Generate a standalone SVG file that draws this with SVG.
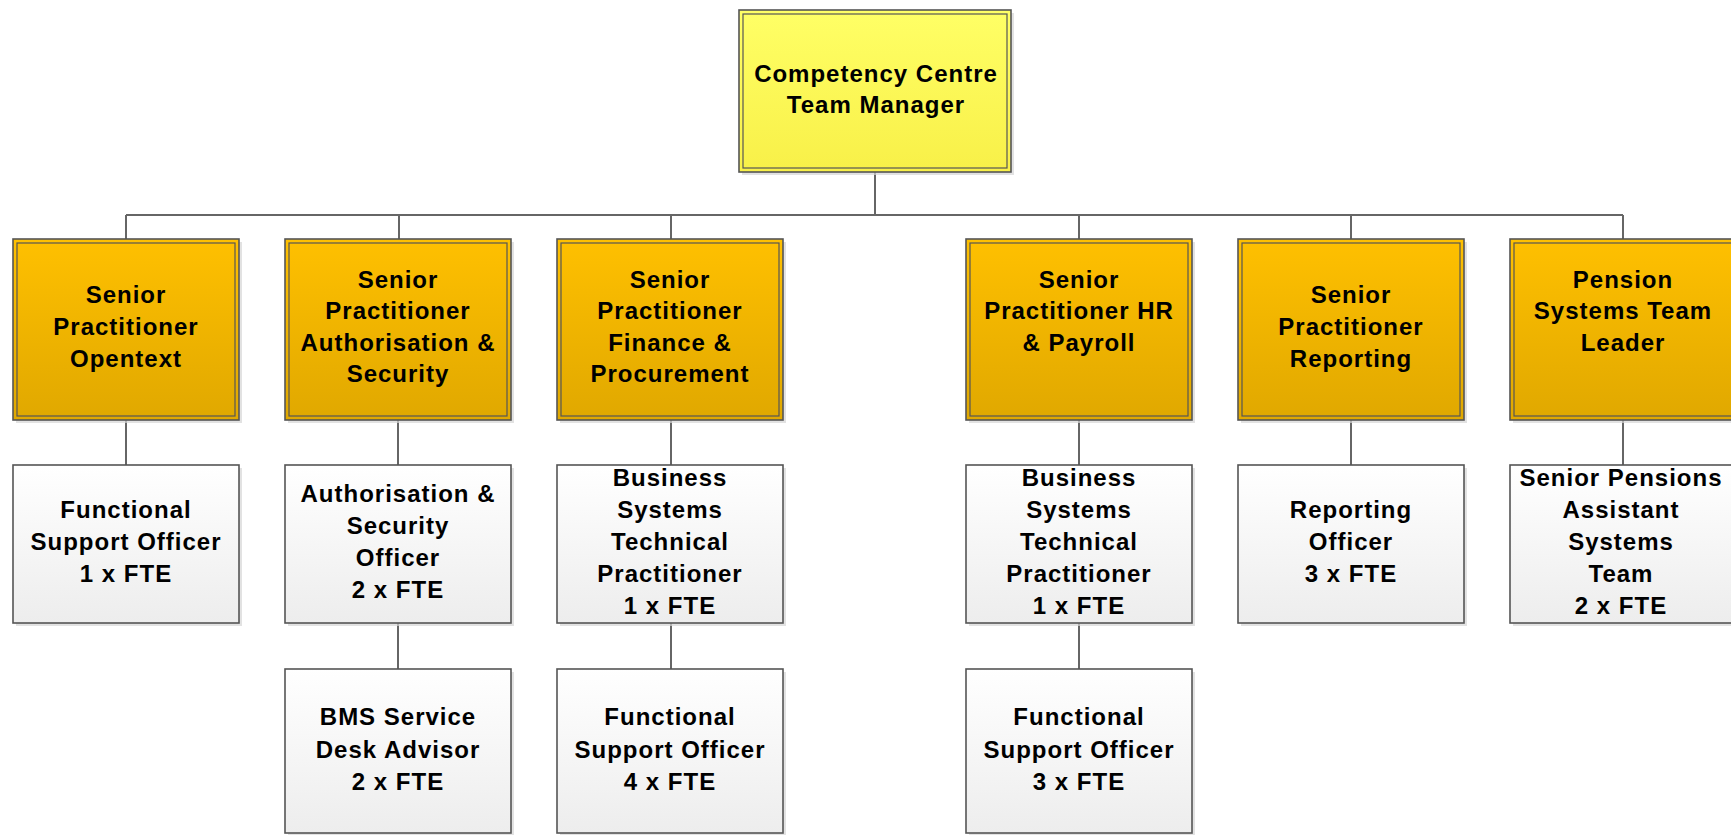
<svg xmlns="http://www.w3.org/2000/svg" width="1731" height="835" viewBox="0 0 1731 835">
<defs>
<linearGradient id="gOrange" x1="0" y1="0" x2="0" y2="1"><stop offset="0" stop-color="#FFC000"/><stop offset="1" stop-color="#E0A800"/></linearGradient>
<linearGradient id="gYellow" x1="0" y1="0" x2="0" y2="1"><stop offset="0" stop-color="#FFFF66"/><stop offset="1" stop-color="#F8F048"/></linearGradient>
<linearGradient id="gGray" x1="0" y1="0" x2="0" y2="1"><stop offset="0" stop-color="#FFFFFF"/><stop offset="1" stop-color="#EDEDED"/></linearGradient>
<style>
.sh{fill:#d6d6d6;opacity:0.7}
.o{stroke:#555;stroke-width:1.6}
.i{fill:none;stroke:#555;stroke-width:1.2}
.or{fill:url(#gOrange)}
.ye{fill:url(#gYellow)}
.gr{fill:url(#gGray)}
.t{font-family:"Liberation Sans",Arial,sans-serif;font-weight:bold;font-size:24px;letter-spacing:1px;fill:#000;text-anchor:middle}
.c{fill:none;stroke:#666;stroke-width:2}
</style>
</defs>
<g id="connectors">
<path class="c" d="M875 172V215M126 215H1623M126 215V239M399 215V239M671 215V239M1079 215V239M1351 215V239M1623 215V239"/>
<path class="c" d="M126 420V465M398 420V465M671 420V465M1079 420V465M1351 420V465M1623 420V465"/>
<path class="c" d="M398 623V669M671 623V669M1079 623V669"/>
</g>
<g id="manager">
<rect class="sh" x="742" y="13" width="272" height="162"/>
<rect class="ye o" x="739" y="10" width="272" height="162"/>
<rect class="i" x="743" y="14" width="264" height="154"/>
<text class="t" x="876" y="82">Competency Centre</text>
<text class="t" x="876" y="113">Team Manager</text>
</g>
<g id="sp-opentext">
<rect class="sh" x="16" y="242" width="226" height="181"/>
<rect class="or o" x="13" y="239" width="226" height="181"/>
<rect class="i" x="17" y="243" width="218" height="173"/>
<text class="t" x="126" y="303">Senior</text>
<text class="t" x="126" y="335">Practitioner</text>
<text class="t" x="126" y="367">Opentext</text>
</g>
<g id="sp-auth">
<rect class="sh" x="288" y="242" width="226" height="181"/>
<rect class="or o" x="285" y="239" width="226" height="181"/>
<rect class="i" x="289" y="243" width="218" height="173"/>
<text class="t" x="398" y="288">Senior</text>
<text class="t" x="398" y="319">Practitioner</text>
<text class="t" x="398" y="351">Authorisation &amp;</text>
<text class="t" x="398" y="382">Security</text>
</g>
<g id="sp-finance">
<rect class="sh" x="560" y="242" width="226" height="181"/>
<rect class="or o" x="557" y="239" width="226" height="181"/>
<rect class="i" x="561" y="243" width="218" height="173"/>
<text class="t" x="670" y="288">Senior</text>
<text class="t" x="670" y="319">Practitioner</text>
<text class="t" x="670" y="351">Finance &amp;</text>
<text class="t" x="670" y="382">Procurement</text>
</g>
<g id="sp-hr">
<rect class="sh" x="969" y="242" width="226" height="181"/>
<rect class="or o" x="966" y="239" width="226" height="181"/>
<rect class="i" x="970" y="243" width="218" height="173"/>
<text class="t" x="1079" y="288">Senior</text>
<text class="t" x="1079" y="319">Practitioner HR</text>
<text class="t" x="1079" y="351">&amp; Payroll</text>
</g>
<g id="sp-reporting">
<rect class="sh" x="1241" y="242" width="226" height="181"/>
<rect class="or o" x="1238" y="239" width="226" height="181"/>
<rect class="i" x="1242" y="243" width="218" height="173"/>
<text class="t" x="1351" y="303">Senior</text>
<text class="t" x="1351" y="335">Practitioner</text>
<text class="t" x="1351" y="367">Reporting</text>
</g>
<g id="pension-leader">
<rect class="sh" x="1513" y="242" width="226" height="181"/>
<rect class="or o" x="1510" y="239" width="226" height="181"/>
<rect class="i" x="1514" y="243" width="218" height="173"/>
<text class="t" x="1623" y="288">Pension</text>
<text class="t" x="1623" y="319">Systems Team</text>
<text class="t" x="1623" y="351">Leader</text>
</g>
<g id="fso-1">
<rect class="sh" x="16" y="468" width="226" height="158"/>
<rect class="gr o" x="13" y="465" width="226" height="158"/>
<text class="t" x="126" y="518">Functional</text>
<text class="t" x="126" y="550">Support Officer</text>
<text class="t" x="126" y="582">1 x FTE</text>
</g>
<g id="auth-officer">
<rect class="sh" x="288" y="468" width="226" height="158"/>
<rect class="gr o" x="285" y="465" width="226" height="158"/>
<text class="t" x="398" y="502">Authorisation &amp;</text>
<text class="t" x="398" y="534">Security</text>
<text class="t" x="398" y="566">Officer</text>
<text class="t" x="398" y="598">2 x FTE</text>
</g>
<g id="bstp-1">
<rect class="sh" x="560" y="468" width="226" height="158"/>
<rect class="gr o" x="557" y="465" width="226" height="158"/>
<text class="t" x="670" y="486">Business</text>
<text class="t" x="670" y="518">Systems</text>
<text class="t" x="670" y="550">Technical</text>
<text class="t" x="670" y="582">Practitioner</text>
<text class="t" x="670" y="614">1 x FTE</text>
</g>
<g id="bstp-2">
<rect class="sh" x="969" y="468" width="226" height="158"/>
<rect class="gr o" x="966" y="465" width="226" height="158"/>
<text class="t" x="1079" y="486">Business</text>
<text class="t" x="1079" y="518">Systems</text>
<text class="t" x="1079" y="550">Technical</text>
<text class="t" x="1079" y="582">Practitioner</text>
<text class="t" x="1079" y="614">1 x FTE</text>
</g>
<g id="reporting-officer">
<rect class="sh" x="1241" y="468" width="226" height="158"/>
<rect class="gr o" x="1238" y="465" width="226" height="158"/>
<text class="t" x="1351" y="518">Reporting</text>
<text class="t" x="1351" y="550">Officer</text>
<text class="t" x="1351" y="582">3 x FTE</text>
</g>
<g id="pensions-assistant">
<rect class="sh" x="1513" y="468" width="226" height="158"/>
<rect class="gr o" x="1510" y="465" width="226" height="158"/>
<text class="t" x="1621" y="486">Senior Pensions</text>
<text class="t" x="1621" y="518">Assistant</text>
<text class="t" x="1621" y="550">Systems</text>
<text class="t" x="1621" y="582">Team</text>
<text class="t" x="1621" y="614">2 x FTE</text>
</g>
<g id="bms-advisor">
<rect class="sh" x="288" y="672" width="226" height="164"/>
<rect class="gr o" x="285" y="669" width="226" height="164"/>
<text class="t" x="398" y="725">BMS Service</text>
<text class="t" x="398" y="758">Desk Advisor</text>
<text class="t" x="398" y="790">2 x FTE</text>
</g>
<g id="fso-4">
<rect class="sh" x="560" y="672" width="226" height="164"/>
<rect class="gr o" x="557" y="669" width="226" height="164"/>
<text class="t" x="670" y="725">Functional</text>
<text class="t" x="670" y="758">Support Officer</text>
<text class="t" x="670" y="790">4 x FTE</text>
</g>
<g id="fso-3">
<rect class="sh" x="969" y="672" width="226" height="164"/>
<rect class="gr o" x="966" y="669" width="226" height="164"/>
<text class="t" x="1079" y="725">Functional</text>
<text class="t" x="1079" y="758">Support Officer</text>
<text class="t" x="1079" y="790">3 x FTE</text>
</g>
</svg>
